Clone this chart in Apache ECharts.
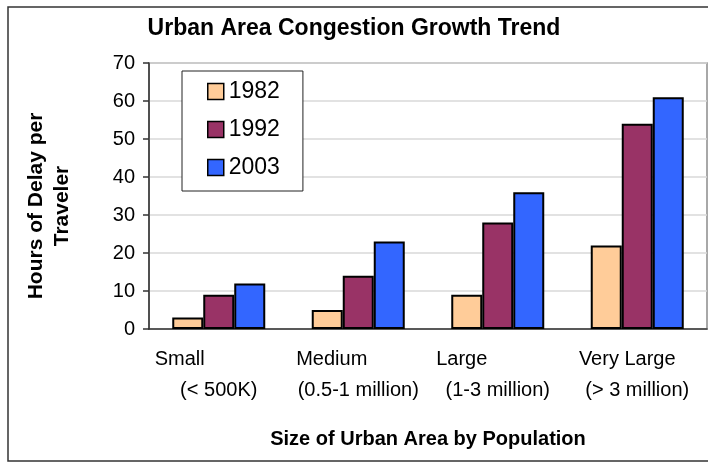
<!DOCTYPE html>
<html>
<head>
<meta charset="utf-8">
<script src="https://cdn.jsdelivr.net/npm/echarts@6/dist/echarts.min.js"></script>
<style>
  html, body { margin: 0; padding: 0; background: #fff; }
  #chart { width: 708px; height: 466px; }
</style>
</head>
<body>
<div id="chart"></div>
<script>
// data
const categories = ['Small', 'Medium', 'Large', 'Very Large']
const subLabels = ['(< 500K)', '(0.5-1 million)', '(1-3 million)', '(> 3 million)']
const years = ['1982', '1992', '2003']
const v1982 = [3, 5, 9, 22]
const v1992 = [9, 14, 28, 54]
const v2003 = [12, 23, 36, 61]
const yTicks = [0, 10, 20, 30, 40, 50, 60, 70]

const colors = ['#FFCC99', '#993366', '#3366FF']
const font = 'Liberation Sans, Arial, sans-serif'

// first line of each category label sits left of centre
const firstLineShift = [78, 53, 72, 20]
const rich = { b: { fontSize: 20, lineHeight: 31, color: '#000', fontFamily: font } }
firstLineShift.forEach((p, i) => {
  rich['a' + i] = { fontSize: 20, lineHeight: 31, color: '#000', fontFamily: font, padding: [0, p, 0, 0] }
})

const mkSeries = (name, data, color) => ({
  name: name,
  type: 'bar',
  data: data,
  barWidth: 31,
  barGap: '0%',
  itemStyle: { color: color, borderColor: '#000', borderWidth: 2 }
})

const chart = echarts.init(document.getElementById('chart'))
chart.setOption({
  animation: false,
  textStyle: { fontFamily: font },
  title: {
    text: 'Urban Area Congestion Growth Trend',
    left: 'center',
    top: 12,
    textStyle: { fontSize: 23, fontWeight: 'bold', color: '#000', fontFamily: font }
  },
  grid: {
    left: 149, right: 1, top: 63, bottom: 137,
    show: true, borderColor: '#8c8c8c', borderWidth: 1.5
  },
  legend: {
    orient: 'vertical',
    left: 182,
    top: 71,
    padding: [9, 23, 12, 25],
    itemGap: 15,
    itemWidth: 16,
    itemHeight: 16,
    icon: 'rect',
    backgroundColor: '#fff',
    borderColor: '#222',
    borderWidth: 1,
    borderRadius: 0,
    itemStyle: { borderColor: '#000', borderWidth: 1.5 },
    textStyle: { fontSize: 23, color: '#000', lineHeight: 23, fontFamily: font },
    data: years
  },
  xAxis: {
    type: 'category',
    data: categories,
    name: 'Size of Urban Area by Population',
    nameLocation: 'middle',
    nameGap: 100,
    nameTextStyle: { fontSize: 20, fontWeight: 'bold', color: '#000' },
    axisLine: { lineStyle: { color: '#333', width: 1.5 } },
    axisTick: { length: 6, lineStyle: { color: '#333', width: 1.5 } },
    axisLabel: {
      margin: 15,
      formatter: (v, i) => '{a' + i + '|' + v + '}\n{b|' + subLabels[i] + '}',
      rich: rich
    }
  },
  yAxis: {
    type: 'value',
    min: yTicks[0],
    max: yTicks[yTicks.length - 1],
    interval: yTicks[1] - yTicks[0],
    name: 'Hours of Delay per\nTraveler',
    nameLocation: 'middle',
    nameGap: 74,
    nameTextStyle: { fontSize: 21, fontWeight: 'bold', color: '#000', lineHeight: 26, padding: [0, 20, 0, 0] },
    axisLine: { show: true, lineStyle: { color: '#333', width: 1.5 } },
    axisTick: { show: true, length: 6, lineStyle: { color: '#333', width: 1.5 } },
    axisLabel: { fontSize: 20, color: '#000', margin: 14 },
    splitLine: { lineStyle: { color: '#d9d9d9', width: 1.5 } }
  },
  graphic: [{
    type: 'rect',
    shape: { x: 8, y: 7, width: 720, height: 454 },
    style: { fill: 'none', stroke: '#333', lineWidth: 1.5 },
    silent: true
  }],
  series: [
    mkSeries(years[0], v1982, colors[0]),
    mkSeries(years[1], v1992, colors[1]),
    mkSeries(years[2], v2003, colors[2])
  ]
})
window.addEventListener('resize', () => chart.resize())
</script>
</body>
</html>
